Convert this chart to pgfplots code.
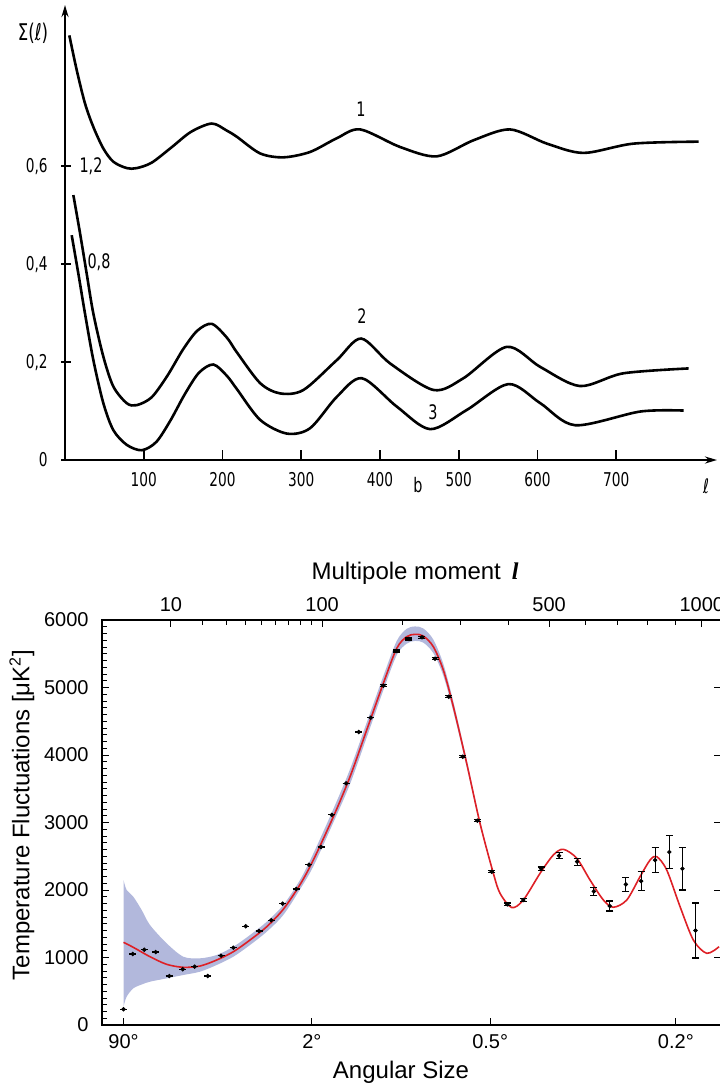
\documentclass[border=0pt]{standalone}
\usepackage{pgfplots}
\pgfplotsset{compat=1.18}
\usetikzlibrary{arrows.meta}
\usepackage{fontspec}
\setmainfont{Liberation Sans}
\newfontfamily\topfont[FakeStretch=0.72]{DejaVu Sans}
\newfontfamily\serifit{Liberation Serif}
\definecolor{bandblue}{RGB}{178,184,220}
\definecolor{modelred}{RGB}{222,32,38}

\begin{document}
\begin{tikzpicture}[x=0.5pt,y=-0.5pt]
\useasboundingbox (0,0) rectangle (719,1089);

% ---------------- top panel ----------------
\begin{axis}[
  at={(32.5pt,-230pt)}, anchor=south west, scale only axis,
  width=326pt, height=227.5pt,
  xmin=0, xmax=828, ymin=0, ymax=0.929,
  axis x line=bottom, axis y line=left,
  axis line style={line width=1pt, -{Stealth[length=6pt,width=3.5pt]}},
  xtick={100,200,300,400,500,600,700},
  xticklabels={100,200,300,400,500,600,700},
  ytick={0,0.2,0.4,0.6},
  yticklabels={0,{0,2},{0,4},{0,6}},
  tick align=inside,
  major tick length=5pt,
  tick style={black, line width=0.8pt},
  ytick style={xshift=-2pt},
  tick label style={font=\topfont\fontsize{9.5}{11}\selectfont, inner sep=0pt},
  xticklabel shift=6pt, yticklabel shift=8.5pt,
  clip=false,
]
\addplot[black, line width=1.3pt, smooth] coordinates {
(5.5,0.867) (14.9,0.796) (25.4,0.728) (36,0.680) (48.7,0.636) (61.4,0.609)
(78.4,0.596) (91.1,0.596) (110,0.607) (135,0.638) (160,0.670) (186.4,0.687)
(205,0.673) (218.2,0.660) (247.8,0.626) (277.4,0.618) (311.3,0.629) (345.2,0.657)
(374.8,0.675) (425.7,0.639) (472,0.620) (519,0.653) (565,0.675) (612,0.646)
(658.6,0.627) (722,0.646) (804.7,0.650)};
\addplot[black, line width=1.3pt, smooth] coordinates {
(10.6,0.541) (19.1,0.463) (27.5,0.381) (36,0.299) (48.7,0.211) (61.4,0.150)
(78.4,0.116) (91.1,0.112) (110,0.128) (130,0.172) (150,0.226) (168,0.264)
(186.4,0.278) (205.5,0.250) (218.2,0.220) (247.8,0.157) (273.2,0.136) (302.8,0.143)
(345.2,0.204) (376,0.248) (413,0.197) (468,0.143) (506,0.167) (561,0.231)
(603.6,0.190) (654,0.151) (709,0.177) (792,0.187)};
\addplot[black, line width=1.3pt, smooth] coordinates {
(8.5,0.459) (16.9,0.381) (25.4,0.299) (36,0.204) (48.7,0.116) (61.4,0.061)
(78.4,0.031) (97.5,0.020) (116,0.037) (134,0.081) (152,0.134) (170,0.178)
(188.4,0.195) (205.5,0.172) (218.2,0.145) (247.8,0.082) (281.7,0.054) (311.3,0.065)
(345.2,0.129) (377,0.167) (421.4,0.109) (463.8,0.063) (510,0.102) (563,0.155)
(603.6,0.116) (648,0.071) (730.6,0.099) (785.6,0.101)};
\end{axis}

\begin{scope}[font=\topfont\fontsize{10}{12}\selectfont]
\node[font=\topfont\fontsize{11.5}{13}\selectfont] at (33,33) {Σ(ℓ)};
\node at (91,166) {1,2};
\node at (99,262) {0,8};
\node at (361,109) {1};
\node at (362,316) {2};
\node at (433,412) {3};
\node at (418,485) {b};
\node at (706,486) {ℓ};
\end{scope}

% ---------------- bottom panel ----------------
% horizontal coordinate is u = l^0.4 (the multipole scale of the reference)
\begin{axis}[
  at={(51pt,-512.5pt)}, anchor=south west, scale only axis,
  width=309.5pt, height=202.5pt,
  xmin=0.779, xmax=16.33, ymin=0, ymax=6000,
  axis line style={line width=0.6pt},
  xtick={1.3195,6.0532,10.532,15.196}, xticklabels={90°,2°,0.5°,0.2°},
  ytick={0,1000,2000,3000,4000,5000,6000},
  yticklabels={0,1000,2000,3000,4000,5000,6000},
  minor ytick={100,200,300,400,500,600,700,800,900,1100,1200,1300,1400,1500,1600,1700,1800,1900,2100,2200,2300,2400,2500,2600,2700,2800,2900,3100,3200,3300,3400,3500,3600,3700,3800,3900,4100,4200,4300,4400,4500,4600,4700,4800,4900,5100,5200,5300,5400,5500,5600,5700,5800,5900},
  xtick pos=bottom, ytick pos=left,
  tick align=inside,
  major tick length=3.5pt, minor tick length=2.3pt,
  tick style={black, line width=0.5pt},
  tick label style={font=\fontsize{10}{12}\selectfont, inner sep=0pt},
  xticklabel shift=4.5pt, yticklabel shift=6.5pt,
]
% uncertainty band: upper edge left to right, then lower edge right to left
\addplot[fill=bandblue, draw=none, smooth] coordinates {
(1.3195,2148) (1.399,2000) (1.565,1901) (1.776,1704) (1.985,1481) (2.404,1210) (2.822,1012)
(3.241,988) (3.660,1037) (4.079,1160) (4.497,1333) (4.917,1530) (5.334,1778)
(5.754,2150) (6.088,2540) (6.591,3200) (7.010,3790) (7.429,4480) (7.847,5170)
(8.183,5690) (8.434,5870) (8.643,5905) (8.852,5875) (9.103,5710) (9.354,5350)
(9.606,4790) (9.941,3930) (10.276,3020) (10.611,2255)
(10.611,2240) (10.276,2955) (9.941,3825) (9.606,4645) (9.354,5175) (9.103,5510)
(8.852,5665) (8.643,5690) (8.434,5650) (8.183,5480) (7.847,4960) (7.429,4260)
(7.010,3570) (6.591,3000) (6.088,2350) (5.754,2010) (5.334,1630) (4.917,1382)
(4.497,1185) (4.079,1012) (3.660,889) (3.241,790) (2.822,741) (2.404,691)
(1.985,642) (1.776,600) (1.565,543) (1.399,420) (1.3195,271)} -- cycle;

\addplot[modelred, line width=0.8pt, smooth] coordinates {
(1.3195,1225) (1.565,1151) (1.985,1012) (2.404,899) (2.822,855) (3.241,874)
(3.660,963) (4.079,1086) (4.497,1259) (4.917,1456) (5.334,1715) (5.754,2080)
(6.088,2444) (6.591,3086) (7.010,3678) (7.429,4370) (7.847,5062) (8.183,5580)
(8.434,5753) (8.643,5788) (8.852,5763) (9.103,5605) (9.354,5259) (9.606,4716)
(9.941,3877) (10.276,2988) (10.611,2247) (10.779,1951) (11.072,1740) (11.364,1852)
(11.784,2247) (12.118,2519) (12.37,2603) (12.706,2470) (13.04,2148) (13.375,1852)
(13.626,1745) (13.962,1852) (14.296,2197) (14.548,2444) (14.716,2494) (14.967,2296)
(15.302,1753) (15.636,1259) (15.972,1062) (16.281,1160)};

\addplot[only marks, mark=*, mark size=0.9pt, black,
  error bars/.cd, y dir=both, y explicit,
  error bar style={line width=0.5pt, black},
  error mark options={black, rotate=90, mark size=1.75pt, line width=0.6pt}]
table[x=u, y=v, y error=e] {
u v e
1.3195 233 0
1.5518 1052 0
1.8412 1116 0
2.1273 1081 0
2.4712 726 0
2.8069 825 0
3.1059 864 0
3.4371 726 0
3.7701 1027 0
4.0790 1145 0
4.3910 1462 0
4.7237 1393 0
5.0318 1551 0
5.3173 1797 0
5.6592 2015 0
5.9786 2375 0
6.2813 2637 0
6.5547 3113 0
6.9095 3580 0
7.2290 4341 0
7.5301 4553 0
7.8473 5027 15
8.1716 5541 15
8.4894 5719 15
8.8180 5744 15
9.1460 5427 15
9.4897 4864 15
9.8424 3975 15
10.2083 3027 15
10.5708 2270 15
10.9616 1788 20
11.3647 1852 20
11.8107 2316 25
12.2622 2508 42
12.7155 2420 52
13.1343 1980 62
13.5370 1763 74
13.9381 2084 101
14.3238 2133 141
14.6747 2444 185
15.0326 2563 242
15.3610 2316 316
15.6901 1400 407
};
\end{axis}

% top ticks (multipole moment l) and right ticks
\begin{axis}[
  at={(51pt,-512.5pt)}, anchor=south west, scale only axis,
  width=309.5pt, height=202.5pt,
  xmin=0.779, xmax=16.33, ymin=0, ymax=6000,
  axis line style={line width=0.6pt},
  xtick={2.5119,6.3096,12.0112,15.8489}, xticklabels={10,100,500,1000},
  minor xtick={3.3145,3.8981,4.3734,4.7820,5.1437,5.4707,5.7708,6.0532,8.3255,9.7915,10.9856,12.9203,13.7414,14.4956,15.196},
  ytick={1000,2000,3000,4000,5000}, yticklabels={},
  xtick pos=top, xticklabel pos=top, ytick pos=right,
  tick align=inside,
  major tick length=3.5pt, minor tick length=2.5pt,
  tick style={black, line width=0.5pt},
  tick label style={font=\fontsize{10}{12}\selectfont, inner sep=0pt},
  xticklabel shift=4pt,
]
\addplot[draw=none] coordinates {(1,0)};
\end{axis}

\node[font=\fontsize{12}{14}\selectfont] at (415,573) {Multipole moment\hspace{0.45em}{\serifit\bfseries\itshape l}};
\node[font=\fontsize{12}{14}\selectfont] at (401,1072) {Angular Size};
\node[rotate=90, font=\fontsize{12}{14}\selectfont] at (22,815) {Temperature Fluctuations [μK\textsuperscript{2}]};
\end{tikzpicture}
\end{document}
